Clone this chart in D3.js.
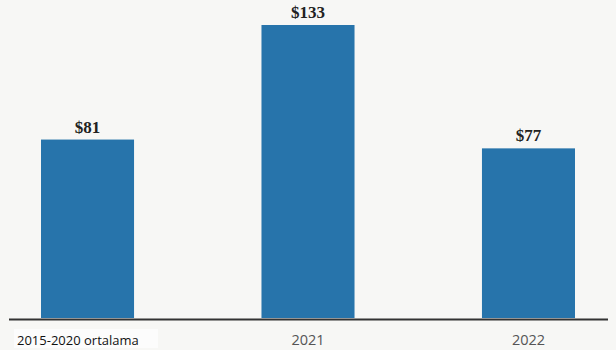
<!DOCTYPE html>
<html><head><meta charset="utf-8">
<script src="https://cdn.jsdelivr.net/npm/d3@7"></script>
<style>body{margin:0;background:#f7f7f5;}svg{display:block;}</style>
</head><body>
<svg id="c" width="616" height="350"></svg>
<script>
const categories = ["2015-2020 ortalama", "2021", "2022"];
const values = [81, 133, 77];
const valueLabels = ["$81", "$133", "$77"];

const svg = d3.select("#c");
svg.append("rect").attr("width",616).attr("height",350).attr("fill","#f7f7f5");
const baseY = 318;
const x = d3.scaleBand().domain(categories).range([41, 575]).paddingInner(0.578).paddingOuter(0);
const y = d3.scaleLinear().domain([0, 133]).range([baseY, 25]);

svg.selectAll("rect.bar").data(values).join("rect").attr("class","bar")
  .attr("x",(d,i)=>x(categories[i])).attr("width",x.bandwidth())
  .attr("y",d=>y(d)).attr("height",d=>baseY-y(d)).attr("fill","#2774ab");

svg.selectAll("text.val").data(values).join("text").attr("class","val")
  .attr("x",(d,i)=>x(categories[i])+x.bandwidth()/2).attr("y",d=>y(d)-7)
  .attr("text-anchor","middle").attr("font-family","'Liberation Serif', Georgia, serif")
  .attr("font-weight","bold").attr("font-size",17).attr("fill","#222")
  .text((d,i)=>valueLabels[i]);

svg.append("line").attr("x1",9).attr("x2",608).attr("y1",319.5).attr("y2",319.5)
  .attr("stroke","#333").attr("stroke-width",2);

svg.append("rect").attr("x",14).attr("y",329).attr("width",144).attr("height",19).attr("fill","#fcfcfc");

svg.selectAll("text.cat").data(categories).join("text").attr("class","cat")
  .attr("x",(d,i)=> i===0 ? 17 : x(d)+x.bandwidth()/2)
  .attr("y",345).attr("text-anchor",(d,i)=> i===0 ? "start" : "middle")
  .attr("font-family","'Open Sans', sans-serif").attr("font-size",(d,i)=> i===0 ? 13 : 14.5)
  .attr("fill",(d,i)=> i===0 ? "#111" : "#555")
  .text(d=>d);
</script>
</body></html>
